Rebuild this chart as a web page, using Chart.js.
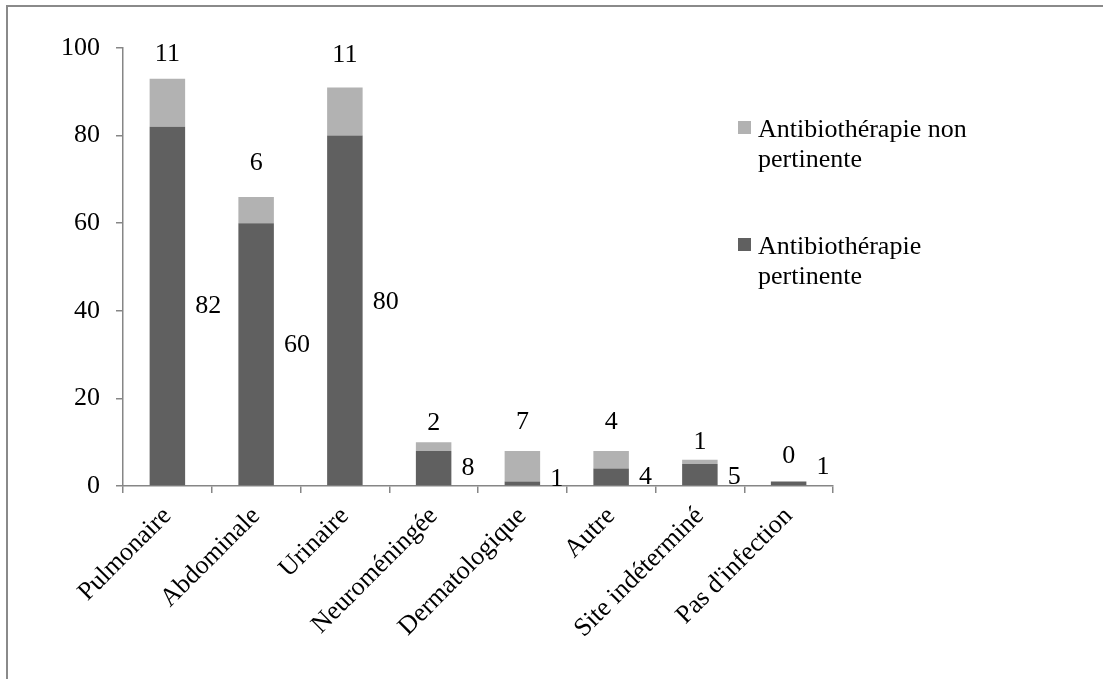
<!DOCTYPE html>
<html lang="fr">
<head>
<meta charset="utf-8">
<title>Pertinence de l'antibiothérapie par site d'infection</title>
<script src="https://cdn.jsdelivr.net/npm/chart.js@4.4.1/dist/chart.umd.min.js"></script>
<style>
    html, body { margin: 0; padding: 0; background: #fff; }
    #wrap { position: relative; width: 1103px; height: 679px; }
</style>
</head>
<body>
<div id="wrap"><canvas id="siteChart"></canvas></div>
<script>
// Data
const sites = ['Pulmonaire', 'Abdominale', 'Urinaire', 'Neuroméningée', 'Dermatologique', 'Autre', 'Site indéterminé', "Pas d'infection"];
const pertinente = [82, 60, 80, 8, 1, 4, 5, 1];
const nonPertinente = [11, 6, 11, 2, 7, 4, 1, 0];
const yTicks = [0, 20, 40, 60, 80, 100];

const seriesNames = ['Antibiothérapie pertinente', 'Antibiothérapie non pertinente'];
const legendLines = {
    'Antibiothérapie non pertinente': ['Antibiothérapie non', 'pertinente'],
    'Antibiothérapie pertinente': ['Antibiothérapie', 'pertinente']
};

// label placement tweaks (pixels), the labels were nudged by hand in the original
const topLabelLift = [24, 34, 32, 19, 29, 29, 18, 25];
const sideLabelShift = [0, -9, -8, 0, -4, 0, 2, -16];

const darkGrey = '#606060';
const lightGrey = '#b2b2b2';
const axisGrey = '#868686';
const serif = "'Liberation Serif', 'Times New Roman', serif";
const fontSize = 26;

const frameAndLabels = {
    id: 'frameAndLabels',
    beforeDraw(chart) {
        const ctx = chart.ctx;
        ctx.save();
        ctx.fillStyle = '#fff';
        ctx.fillRect(0, 0, chart.width, chart.height);
        // outer frame: only the top and left edges fall inside the picture
        ctx.strokeStyle = '#8a8a8a';
        ctx.lineWidth = 2;
        ctx.beginPath();
        ctx.moveTo(7, chart.height);
        ctx.lineTo(7, 6);
        ctx.lineTo(chart.width, 6);
        ctx.stroke();
        ctx.restore();
    },
    afterDatasetsDraw(chart) {
        const ctx = chart.ctx;
        const low = chart.getDatasetMeta(0);
        const high = chart.getDatasetMeta(1);
        ctx.save();
        ctx.font = fontSize + 'px ' + serif;
        ctx.fillStyle = '#000';
        ctx.textBaseline = 'middle';

        low.data.forEach((bar, i) => {
            ctx.textAlign = 'left';
            ctx.fillText(String(pertinente[i]), bar.x + bar.width / 2 + 10, (bar.y + bar.base) / 2 + sideLabelShift[i]);
        });
        high.data.forEach((bar, i) => {
            ctx.textAlign = 'center';
            ctx.fillText(String(nonPertinente[i]), bar.x, bar.y - topLabelLift[i]);
        });

        // legend, top entry = upper series
        const area = chart.chartArea;
        const x0 = area.right - 95;
        let y0 = area.top + 73;
        [1, 0].forEach(di => {
            const ds = chart.data.datasets[di];
            ctx.fillStyle = ds.backgroundColor;
            ctx.fillRect(x0, y0, 13, 13);
            ctx.fillStyle = '#000';
            ctx.textAlign = 'left';
            ctx.textBaseline = 'alphabetic';
            legendLines[ds.label].forEach((line, k) => {
                ctx.fillText(line, x0 + 20, y0 + 16 + k * 30);
            });
            y0 += 117;
        });
        ctx.restore();
    }
};

const ctx = document.getElementById('siteChart').getContext('2d');
new Chart(ctx, {
    type: 'bar',
    data: {
        labels: sites,
        datasets: [
            {
                label: seriesNames[0],
                data: pertinente,
                backgroundColor: darkGrey,
                categoryPercentage: 1,
                barPercentage: 0.4
            },
            {
                label: seriesNames[1],
                data: nonPertinente,
                backgroundColor: lightGrey,
                categoryPercentage: 1,
                barPercentage: 0.4
            }
        ]
    },
    options: {
        responsive: true,
        maintainAspectRatio: false,
        animation: false,
        layout: {
            padding: { left: 8, right: 270, top: 48, bottom: 0 }
        },
        plugins: {
            legend: { display: false },
            tooltip: { enabled: false },
            title: { display: false }
        },
        scales: {
            x: {
                stacked: true,
                border: { display: true, color: axisGrey, width: 1.5 },
                grid: {
                    display: true,
                    drawOnChartArea: false,
                    drawTicks: true,
                    tickLength: 7,
                    offset: true,
                    color: axisGrey,
                    lineWidth: 1.5
                },
                ticks: {
                    color: '#000',
                    font: { family: serif, size: fontSize },
                    minRotation: 45,
                    maxRotation: 45,
                    autoSkip: false,
                    padding: 8
                },
                afterFit(scale) {
                    scale.height = 193;
                }
            },
            y: {
                stacked: true,
                min: 0,
                max: 100,
                border: { display: true, color: axisGrey, width: 1.5 },
                grid: {
                    display: true,
                    drawOnChartArea: false,
                    drawTicks: true,
                    tickLength: 7,
                    color: axisGrey,
                    lineWidth: 1.5
                },
                afterBuildTicks(scale) {
                    scale.ticks = yTicks.map(v => ({ value: v }));
                },
                ticks: {
                    color: '#000',
                    font: { family: serif, size: fontSize },
                    padding: 16
                },
                afterFit(scale) {
                    scale.width = 115;
                }
            }
        }
    },
    plugins: [frameAndLabels]
});
</script>
</body>
</html>
